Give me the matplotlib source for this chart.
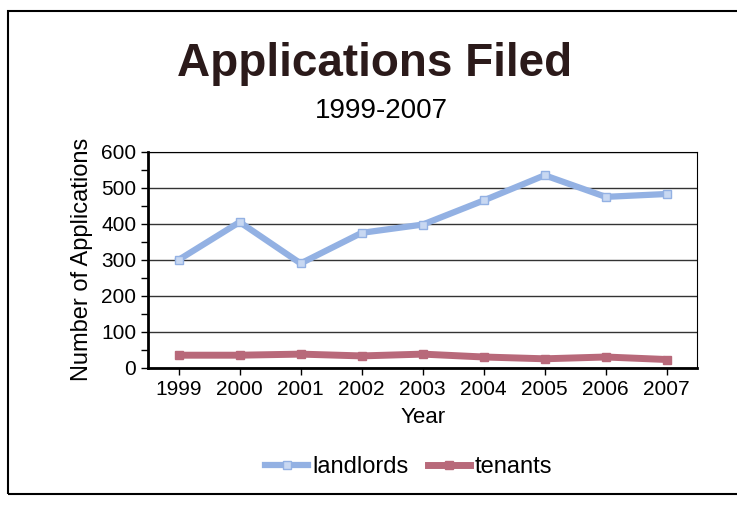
import numpy as np
import matplotlib.pyplot as plt
from matplotlib.patches import Rectangle

plt.rcParams['font.family'] = ['Liberation Sans', 'DejaVu Sans']

years = ["1999", "2000", "2001", "2002", "2003", "2004", "2005", "2006", "2007"]
landlords = [300, 405, 290, 375, 398, 465, 535, 475, 483]
tenants = [35, 35, 38, 33, 38, 30, 25, 30, 23]

fig = plt.figure(figsize=(7.37, 5.08), dpi=100)
ax = fig.add_axes([0.201, 0.276, 0.745, 0.425])

x = np.arange(len(years))
ax.plot(x, landlords, color="#93b1e3", lw=4.5, marker="s", ms=6,
        mfc="#c8d8f2", mec="#93b1e3", label="landlords", zorder=3)
ax.plot(x, tenants, color="#b8697a", lw=5, marker="s", ms=6,
        mfc="#b8697a", mec="#b8697a", label="tenants", zorder=3)

ax.set_xlim(-0.5, len(years) - 0.5)
ax.set_ylim(0, 600)
ax.set_yticks(np.arange(0, 601, 100))
ax.set_yticks(np.arange(50, 600, 100), minor=True)
ax.set_xticks(x)
ax.set_xticklabels(years)
ax.tick_params(axis="both", labelsize=15, direction="out", length=5, width=1)
ax.tick_params(axis="y", which="minor", length=5, width=1)
ax.grid(axis="y", color="#333333", lw=1)
for s in ax.spines.values():
    s.set_color("black")
ax.spines["left"].set_linewidth(2)
ax.spines["bottom"].set_linewidth(2)

ax.set_ylabel("Number of Applications", fontsize=17, labelpad=6)
ax.set_xlabel("Year", fontsize=16, labelpad=6)

fig.text(0.508, 0.875, "Applications Filed", ha="center", va="center",
         fontsize=33, fontweight="bold", color="#2b1a1a")
fig.text(0.518, 0.782, "1999-2007", ha="center", va="center", fontsize=20)

fig.legend(loc="center", bbox_to_anchor=(0.555, 0.08), ncol=2, frameon=False,
           fontsize=17, handlelength=1.8, handletextpad=0.2, columnspacing=0.8)

fig.patches.append(Rectangle((0.011, 0.028), 1.0, 0.95, transform=fig.transFigure,
                             fill=False, ec="black", lw=1.5))

fig.savefig("out.png", dpi=100)
